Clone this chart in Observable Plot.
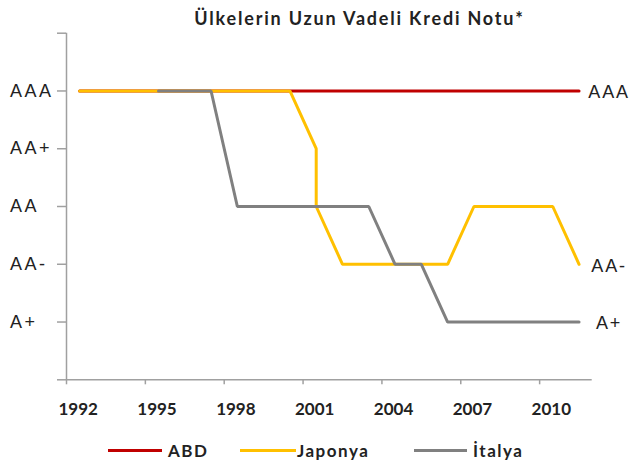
<!DOCTYPE html>
<html>
<head>
<meta charset="utf-8">
<script src="https://cdn.jsdelivr.net/npm/d3@7"></script>
<script src="https://cdn.jsdelivr.net/npm/@observablehq/plot@0.6"></script>
<style>
  body { margin: 0; background: #fff; }
  #wrap { position: relative; width: 632px; height: 468px; overflow: hidden; font-family: Lato, "Open Sans", sans-serif; color: #222; }
  #title { position: relative; height: 28px; }
  #title span { position: absolute; left: 359.5px; top: 9px; transform: translateX(-50%); white-space: nowrap; font-size: 18px; line-height: 18px; font-weight: 700; letter-spacing: 1.8px; }
  #chart { height: 400px; }
  #chart svg { display: block; }
  #legend { position: relative; height: 40px; }
  #legend .ln { position: absolute; height: 3px; top: 21px; }
  #legend .tx { position: absolute; top: 14px; font-size: 17px; line-height: 17px; font-weight: 700; letter-spacing: 1.5px; white-space: nowrap; }
  svg text.lbl { letter-spacing: 1.5px; }
  svg .rl text, svg text.rl { letter-spacing: 2.5px; }
  svg .el text, svg text.el { letter-spacing: 1.8px; }
</style>
</head>
<body>
<div id="wrap">
  <div id="title"><span>Ülkelerin Uzun Vadeli Kredi Notu*</span></div>
  <div id="chart"></div>
  <div id="legend"></div>
</div>
<script>
// ---- data ----
const yTickValues = [0, 1, 2, 3, 4, 5, 6];
const yTickLabels = ["", "A+", "AA-", "AA", "AA+", "AAA", ""];
const xTickYears = [1992, 1995, 1998, 2001, 2004, 2007, 2010];

const seriesNames = ["ABD", "Japonya", "İtalya"];
const seriesColors = ["#C00000", "#FFC000", "#808080"];

const abdYears = [1992, 1993, 1994, 1995, 1996, 1997, 1998, 1999, 2000, 2001, 2002, 2003, 2004, 2005, 2006, 2007, 2008, 2009, 2010, 2011];
const abdRatings = ["AAA", "AAA", "AAA", "AAA", "AAA", "AAA", "AAA", "AAA", "AAA", "AAA", "AAA", "AAA", "AAA", "AAA", "AAA", "AAA", "AAA", "AAA", "AAA", "AAA"];

const japanYears = [1992, 1993, 1994, 1995, 1996, 1997, 1998, 1999, 2000, 2001, 2001, 2002, 2003, 2004, 2005, 2006, 2007, 2008, 2009, 2010, 2011];
const japanRatings = ["AAA", "AAA", "AAA", "AAA", "AAA", "AAA", "AAA", "AAA", "AAA", "AA+", "AA", "AA-", "AA-", "AA-", "AA-", "AA-", "AA", "AA", "AA", "AA", "AA-"];

const italyYears = [1995, 1996, 1997, 1998, 1999, 2000, 2001, 2002, 2003, 2004, 2005, 2006, 2007, 2008, 2009, 2010, 2011];
const italyRatings = ["AAA", "AAA", "AAA", "AA", "AA", "AA", "AA", "AA", "AA", "AA-", "AA-", "A+", "A+", "A+", "A+", "A+", "A+"];

// ---- build tables ----
const level = r => yTickLabels.indexOf(r);
const toRows = (years, ratings, name) => years.map((yr, i) => ({series: name, year: yr, rating: ratings[i]}));
const allSeries = [
  toRows(abdYears, abdRatings, seriesNames[0]),
  toRows(japanYears, japanRatings, seriesNames[1]),
  toRows(italyYears, italyRatings, seriesNames[2])
];
const endRows = allSeries.map(rows => rows[rows.length - 1]);

const axisColor = "#A0A0A0";
const textColor = "#222";
const xPos = d => d.year + 0.5; // category centre

const chart = Plot.plot({
  width: 632,
  height: 400,
  marginLeft: 66,
  marginRight: 40.3,
  marginTop: 4.7,
  marginBottom: 48.7,
  x: {domain: [1992, 2012]},
  y: {domain: [0, 6]},
  style: {background: "transparent", overflow: "visible"},
  marks: [
    // y axis ticks and labels (left aligned)
    Plot.axisY({ticks: yTickValues, tickSize: 9, tickPadding: 47.5, textAnchor: "start",
      tickFormat: i => yTickLabels[i], stroke: axisColor, strokeWidth: 1.5, fill: textColor,
      fontSize: 18, fontFamily: "Liberation Sans, Arial, sans-serif", label: null, className: "rl"}),
    // x axis ticks
    Plot.axisX({ticks: xTickYears, tickSize: 5, stroke: axisColor, strokeWidth: 1.5, fill: "none", label: null}),
    // axis lines
    Plot.ruleX([1992], {y1: 0, y2: 6, stroke: axisColor, strokeWidth: 1.5}),
    Plot.ruleY([0], {x1: 1992, x2: 2012, stroke: axisColor, strokeWidth: 1.5}),
    // x tick labels
    Plot.text(xTickYears, {x: d => d + 0.5, y: 0, dx: -1.5, dy: 29.7, text: d => String(d),
      fill: textColor, fontSize: 17, fontWeight: 700, fontFamily: "Lato, sans-serif", className: "lbl"}),
    // series lines (draw order: ABD, Japonya, İtalya)
    ...allSeries.map((rows, i) => Plot.line(rows, {x: xPos, y: d => level(d.rating),
      stroke: seriesColors[i], strokeWidth: 3, strokeLinejoin: "miter"})),
    // end labels
    Plot.text(endRows, {x: xPos, y: d => level(d.rating), text: "rating", dx: 30, dy: 1.5,
      fill: textColor, fontSize: 18, fontFamily: "Liberation Sans, Arial, sans-serif", className: "el"})
  ]
});
document.getElementById("chart").appendChild(chart);

// ---- legend ----
const legendLayout = [
  {line: 108, w: 54, text: 168},
  {line: 240, w: 56, text: 297},
  {line: 414, w: 53, text: 473}
];
const legend = document.getElementById("legend");
seriesNames.forEach((name, i) => {
  const ln = document.createElement("div");
  ln.className = "ln";
  ln.style.left = legendLayout[i].line + "px";
  ln.style.width = legendLayout[i].w + "px";
  ln.style.background = seriesColors[i];
  legend.appendChild(ln);
  const tx = document.createElement("span");
  tx.className = "tx";
  tx.style.left = legendLayout[i].text + "px";
  tx.textContent = name;
  legend.appendChild(tx);
});
</script>
</body>
</html>
